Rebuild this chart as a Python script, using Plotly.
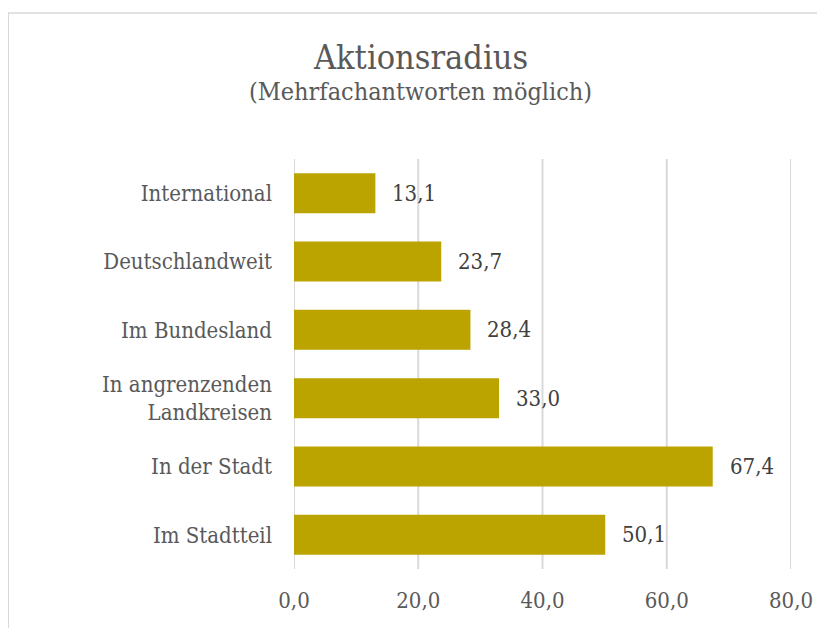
import plotly.graph_objects as go

# Data (listed bottom-to-top as Plotly draws categorical y axes)
categories = ["Im Stadtteil", "In der Stadt", "In angrenzenden<br>Landkreisen",
              "Im Bundesland", "Deutschlandweit", "International"]
values = [50.1, 67.4, 33.0, 28.4, 23.7, 13.1]
tick_vals = [0, 20, 40, 60, 80]
tick_text = ["0,0", "20,0", "40,0", "60,0", "80,0"]
title_text = "Aktionsradius"
subtitle_text = "(Mehrfachantworten möglich)"

FONT = "DejaVu Serif Condensed, Liberation Serif, serif"
BAR = "#BBA300"
TXT = "#595959"
LBL = "#404040"
GRID = "#d9d9d9"

fig = go.Figure()
fig.add_trace(go.Bar(
    x=values, y=categories, orientation="h",
    marker=dict(color=BAR, line=dict(width=0)),
    hoverinfo="skip",
))

annotations = []
for v, c in zip(values, categories):
    annotations.append(dict(
        x=v, y=c, xref="x", yref="y", text=f"{v:.1f}".replace(".", ","),
        showarrow=False, xanchor="left", yanchor="middle", xshift=15,
        font=dict(family=FONT, size=22, color=LBL),
    ))
annotations.append(dict(
    x=0.255, y=1.249, xref="paper", yref="paper", text=title_text,
    showarrow=False, xanchor="center", yanchor="middle",
    font=dict(family=FONT, size=34, color=TXT),
))
annotations.append(dict(
    x=0.255, y=1.164, xref="paper", yref="paper", text=subtitle_text,
    showarrow=False, xanchor="center", yanchor="middle",
    font=dict(family=FONT, size=25, color=TXT),
))

shapes = [dict(
    type="rect", xref="paper", yref="paper",
    x0=-0.575, x1=1.1, y0=-0.2, y1=1.356,
    line=dict(color=GRID, width=1.5), fillcolor="rgba(0,0,0,0)",
    layer="below",
)]
for t in tick_vals:
    shapes.append(dict(
        type="line", xref="x", yref="paper", x0=t, x1=t, y0=0, y1=1,
        line=dict(color=GRID, width=2), layer="below",
    ))

fig.update_layout(
    width=817, height=620,
    margin=dict(l=286, r=31, t=151, b=59),
    paper_bgcolor="white", plot_bgcolor="white",
    bargap=0.415,
    showlegend=False,
    annotations=annotations,
    shapes=shapes,
    font=dict(family=FONT, color=TXT),
)
fig.update_xaxes(
    range=[0, 80], tickvals=tick_vals, ticktext=tick_text,
    showgrid=False, zeroline=False, showline=False, ticks="",
    tickfont=dict(family=FONT, size=22, color=TXT),
    ticklabelstandoff=16, fixedrange=True,
)
fig.update_yaxes(
    showgrid=False, zeroline=False, showline=False, ticks="",
    tickfont=dict(family=FONT, size=22, color=TXT),
    ticklabelstandoff=21, fixedrange=True,
)

fig.write_html("out.html", config={"displayModeBar": False})
